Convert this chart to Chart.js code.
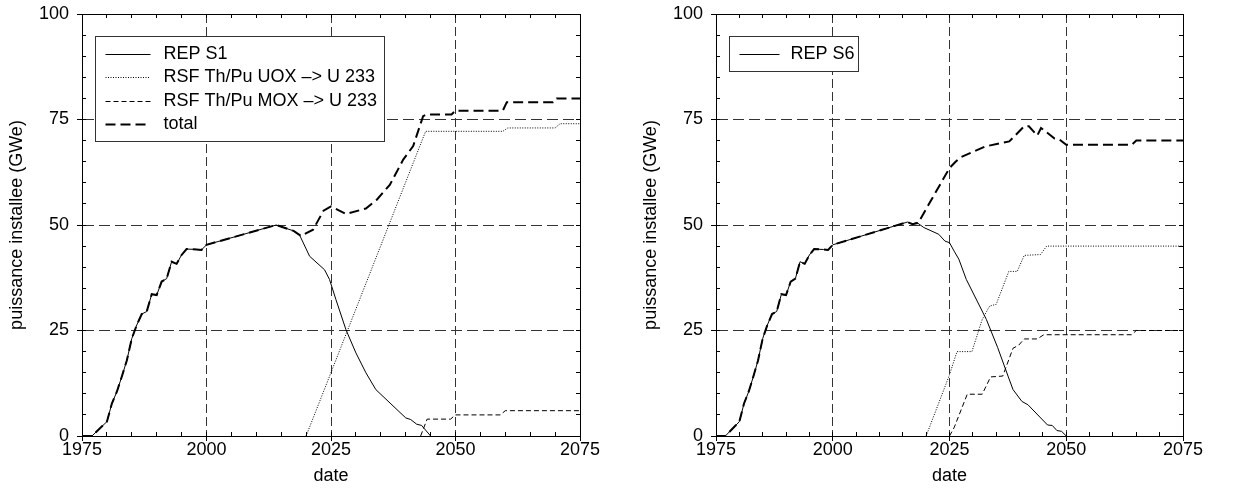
<!DOCTYPE html>
<html>
<head>
<meta charset="utf-8">
<script src="https://cdn.jsdelivr.net/npm/chart.js@4.4.1/dist/chart.umd.min.js"></script>
<style>
  html, body { margin: 0; padding: 0; background: #fff; }
  body { position: relative; width: 1259px; height: 490px; overflow: hidden; }
  canvas { position: absolute; top: 0; }
  #left { left: 0; }
  #right { left: 634px; }
</style>
</head>
<body>
<canvas id="left" width="610" height="490"></canvas>
<canvas id="right" width="579" height="490"></canvas>
<script>
// historical fleet, shared by both scenarios (years / GWe)
const histYears = [1975, 1977, 1980, 1981, 1982, 1983, 1984, 1985, 1986, 1987, 1988, 1989, 1990, 1991, 1992, 1993, 1994, 1995, 1996, 1998, 1999, 2000];
const histGWe   = [0, 0, 3.4, 7.7, 10.5, 14.1, 17.9, 23.1, 26.3, 28.9, 29.5, 33.6, 33.4, 36.6, 37.3, 41.3, 40.8, 42.9, 44.3, 44.2, 44.1, 45.3];

// scenario S1 (left)
const repS1Years   = [...histYears, 2014, 2017.5, 2018.7, 2020.7, 2023.7, 2024.7, 2026, 2028, 2030, 2032, 2034, 2040, 2041, 2042.2, 2043.2, 2045];
const repS1        = [...histGWe, 50.0, 48.6, 47.6, 42.6, 39.4, 37.1, 32.3, 25.2, 19.7, 15.0, 11.0, 4.3, 3.9, 2.8, 2.5, 0];
const uoxS1Years   = [2020, 2044, 2059.5, 2060.5, 2070, 2071, 2075];
const uoxS1        = [0, 72.2, 72.2, 73.0, 73.0, 74.0, 74.0];
const moxS1Years   = [2043, 2044.3, 2049, 2050, 2059, 2060, 2075];
const moxS1        = [0, 4.0, 4.0, 5.0, 5.0, 6.0, 6.0];
const totalS1Years = [...histYears, 2014, 2017.5, 2019, 2021.4, 2023.5, 2025, 2028, 2032, 2034.2, 2036.8, 2039.5, 2041.5, 2043.5, 2044.2, 2049.2, 2050, 2059.5, 2060.3, 2069.6, 2070.3, 2075];
const totalS1      = [...histGWe, 50.0, 48.6, 47.4, 48.9, 53.4, 54.4, 52.6, 53.9, 56.0, 59.5, 65.5, 68.7, 75.8, 76.2, 76.2, 77.1, 77.1, 79.1, 79.1, 80.0, 80.0];

// scenario S6 (right)
const repS6Years   = [...histYears, 2016, 2017, 2018, 2019.5, 2022.7, 2024, 2025, 2026, 2027, 2028.6, 2032.9, 2035.3, 2037.6, 2038.6, 2040.5, 2041.8, 2046, 2047, 2048, 2049, 2050];
const repS6        = [...histGWe, 50.7, 50.2, 50.6, 49.4, 47.8, 46.2, 45.8, 43.8, 41.9, 37.1, 27.6, 21.0, 14.0, 11.0, 8.2, 7.4, 2.6, 2.5, 1.3, 1.1, 0];
const uoxS6Years   = [2020, 2025, 2026.6, 2029.8, 2032, 2033.6, 2035, 2037.7, 2039.5, 2041, 2044.5, 2045.8, 2075];
const uoxS6        = [0, 14.5, 20.0, 20.0, 27.6, 30.8, 31.2, 39.0, 39.0, 42.8, 43.0, 45.0, 45.0];
const moxS6Years   = [2025, 2026, 2028.8, 2032, 2033.8, 2036.4, 2038.6, 2039.8, 2041, 2043.8, 2045.2, 2064, 2065, 2075];
const moxS6        = [0, 2.0, 9.9, 9.9, 14.0, 14.2, 20.8, 21.5, 23.0, 23.0, 24.0, 24.0, 25.0, 25.0];
const totalS6Years = [...histYears, 2016, 2017.1, 2018.3, 2025, 2026.3, 2027.3, 2032.6, 2037.8, 2041, 2042, 2043.8, 2044.6, 2047.5, 2048.5, 2050, 2064, 2065, 2075];
const totalS6      = [...histGWe, 50.7, 50.2, 50.5, 63.5, 65.0, 66.0, 68.6, 69.8, 73.4, 73.4, 71.2, 73.0, 70.5, 70.3, 69.0, 69.0, 70.0, 70.0];

const xTicks = [1975, 2000, 2025, 2050, 2075];
const yTicks = [0, 25, 50, 75, 100];

const FONT = '"Liberation Sans", Arial, Helvetica, sans-serif';
Chart.defaults.font.family = FONT;
Chart.defaults.font.size = 18;
Chart.defaults.color = '#000';

// framed legend inside the plot, top left
const boxLegend = {
  id: 'boxLegend',
  afterDatasetsDraw(chart, args, opts) {
    const { ctx, chartArea } = chart;
    const items = chart.data.datasets.slice(0, opts.count);
    ctx.save();
    ctx.font = '18px ' + FONT;
    const textW = Math.max(...items.map(d => ctx.measureText(d.label).width));
    const x = Math.round(chartArea.left + 13) + 0.5;
    const y = Math.round(chartArea.top + 22) + 0.5;
    const w = Math.round(opts.textOffset + textW + opts.padRight);
    const h = Math.round(35 + (items.length - 1) * 23.4);
    ctx.fillStyle = '#fff';
    ctx.fillRect(x, y, w, h);
    ctx.strokeStyle = '#333';
    ctx.lineWidth = 1;
    ctx.strokeRect(x, y, w, h);
    items.forEach((d, i) => {
      const cy = Math.round(y + 17.5 + i * 23.4) + 0.5;
      ctx.setLineDash(d.borderDash || []);
      ctx.lineWidth = d.borderWidth;
      ctx.strokeStyle = d.borderColor;
      ctx.beginPath();
      ctx.moveTo(x + 10, cy);
      ctx.lineTo(x + 10 + opts.sample, cy);
      ctx.stroke();
      ctx.setLineDash([]);
      ctx.fillStyle = '#000';
      ctx.textBaseline = 'middle';
      ctx.fillText(d.label, x + opts.textOffset, cy);
    });
    ctx.restore();
  }
};

// top/right border and small inner ticks every 5 units
const frame = {
  id: 'frame',
  afterDatasetsDraw(chart) {
    const { ctx, chartArea: a, scales: { x, y } } = chart;
    ctx.save();
    ctx.strokeStyle = '#000';
    ctx.lineWidth = 1;
    ctx.beginPath();
    for (let v = x.min; v <= x.max; v += 5) {
      const px = Math.round(x.getPixelForValue(v) - 0.5) + 0.5;
      ctx.moveTo(px, a.bottom); ctx.lineTo(px, a.bottom - 4);
      ctx.moveTo(px, a.top); ctx.lineTo(px, a.top + 4);
    }
    for (let v = y.min; v <= y.max; v += 5) {
      const py = Math.round(y.getPixelForValue(v) - 0.5) + 0.5;
      ctx.moveTo(a.left, py); ctx.lineTo(a.left + 4, py);
      ctx.moveTo(a.right, py); ctx.lineTo(a.right - 4, py);
    }
    const t = Math.round(a.top - 0.5) + 0.5, r = Math.round(a.right - 0.5) + 0.5;
    ctx.moveTo(a.left, t); ctx.lineTo(r, t); ctx.lineTo(r, a.bottom);
    ctx.stroke();
    ctx.restore();
  }
};

function edgeColor(lo, hi) {
  return c => (c.tick && (c.tick.value === lo || c.tick.value === hi)) ? 'rgba(0,0,0,0)' : '#333';
}

function makeChart(id, series, legendOpts) {
  return new Chart(document.getElementById(id), {
    type: 'line',
    data: {
      datasets: series.map(s => ({
        label: s.label,
        data: s.years.map((x, i) => ({ x, y: s.values[i] })),
        borderColor: '#000',
        borderWidth: s.width,
        borderDash: s.dash,
        pointRadius: 0,
        tension: 0,
        fill: false
      }))
    },
    options: {
      responsive: false,
      animation: false,
      devicePixelRatio: 1,
      layout: { padding: { top: 14, right: 30, bottom: 0, left: 0 } },
      scales: {
        x: {
          type: 'linear',
          min: xTicks[0],
          max: xTicks[xTicks.length - 1],
          afterFit(s) { s.height = 54; s.paddingLeft = 0; s.paddingRight = 0; },
          afterBuildTicks(s) { s.ticks = xTicks.map(v => ({ value: v })); },
          ticks: { callback: v => String(v), padding: -2, maxRotation: 0, autoSkip: false },
          grid: { color: edgeColor(xTicks[0], xTicks[xTicks.length - 1]), tickColor: '#000', tickLength: 5, lineWidth: 1 },
          border: { color: '#000', width: 1, dash: [9, 4] },
          title: { display: true, text: 'date', padding: { top: 0, bottom: 3 } }
        },
        y: {
          min: yTicks[0],
          max: yTicks[yTicks.length - 1],
          afterFit(s) { s.width = 82; s.paddingTop = 0; s.paddingBottom = 0; },
          afterBuildTicks(s) { s.ticks = yTicks.map(v => ({ value: v })); },
          ticks: { callback: v => String(v), padding: 8 },
          grid: { color: edgeColor(yTicks[0], yTicks[yTicks.length - 1]), tickColor: '#000', tickLength: 5, lineWidth: 1 },
          border: { color: '#000', width: 1, dash: [11, 5] },
          title: { display: true, text: 'puissance installee (GWe)', padding: { top: 6, bottom: 0 } }
        }
      },
      plugins: {
        legend: { display: false },
        tooltip: { enabled: false },
        boxLegend: legendOpts
      }
    },
    plugins: [frame, boxLegend]
  });
}

makeChart('left', [
  { label: 'REP S1', years: repS1Years, values: repS1, width: 1, dash: [] },
  { label: 'RSF Th/Pu UOX –> U 233', years: uoxS1Years, values: uoxS1, width: 1, dash: [1, 1.5] },
  { label: 'RSF Th/Pu MOX –> U 233', years: moxS1Years, values: moxS1, width: 1, dash: [5, 3] },
  { label: 'total', years: totalS1Years, values: totalS1, width: 2, dash: [10, 5] }
], { count: 4, sample: 45, textOffset: 68, padRight: 7 });

makeChart('right', [
  { label: 'REP S6', years: repS6Years, values: repS6, width: 1, dash: [] },
  { label: 'RSF Th/Pu UOX –> U 233', years: uoxS6Years, values: uoxS6, width: 1, dash: [1, 1.5] },
  { label: 'RSF Th/Pu MOX –> U 233', years: moxS6Years, values: moxS6, width: 1, dash: [5, 3] },
  { label: 'total', years: totalS6Years, values: totalS6, width: 2, dash: [10, 5] }
], { count: 1, sample: 40, textOffset: 61, padRight: 4 });
</script>
</body>
</html>
